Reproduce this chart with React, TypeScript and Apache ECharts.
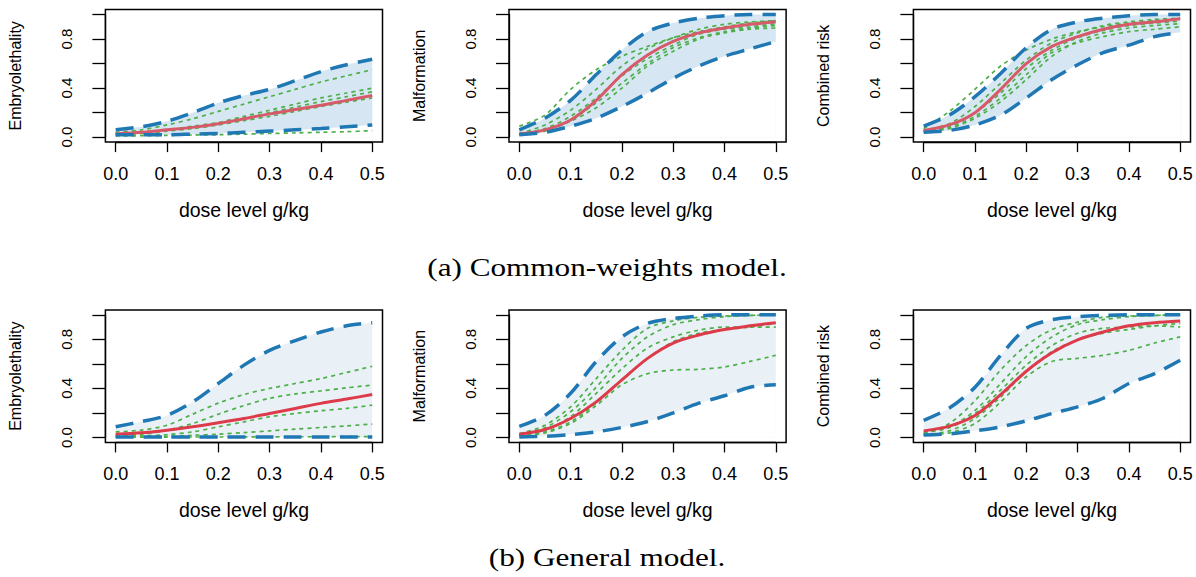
import React, { useEffect, useRef } from "react";
import * as echarts from "echarts";

// dose levels (g/kg) at which the curves are read
const dose = [0, 0.05, 0.1, 0.15, 0.2, 0.25, 0.3, 0.35, 0.4, 0.45, 0.5];
const xTicks = [0, 0.1, 0.2, 0.3, 0.4, 0.5];
const yTicks = [0, 0.2, 0.4, 0.6, 0.8, 1.0];
const yLabelled = ["0.0", "0.4", "0.8"];
const panelTitles = ["Embryolethality", "Malformation", "Combined risk"];
const xTitle = "dose level g/kg";
const captions = ["(a) Common-weights model.", "(b) General model."];

// (a) Common-weights model — Embryolethality
const cwEmbUpper = [0.06, 0.085, 0.13, 0.2, 0.28, 0.34, 0.39, 0.46, 0.535, 0.59, 0.635];
const cwEmbLower = [0.02, 0.02, 0.02, 0.025, 0.03, 0.04, 0.05, 0.06, 0.07, 0.085, 0.1];
const cwEmbMean = [0.027, 0.04, 0.06, 0.08, 0.11, 0.15, 0.19, 0.225, 0.26, 0.3, 0.34];
const cwEmbDraw1 = [0.04, 0.06, 0.1, 0.15, 0.21, 0.27, 0.33, 0.39, 0.45, 0.5, 0.55];
const cwEmbDraw2 = [0.03, 0.04, 0.06, 0.09, 0.12, 0.17, 0.22, 0.27, 0.32, 0.36, 0.4];
const cwEmbDraw3 = [0.025, 0.035, 0.055, 0.08, 0.11, 0.155, 0.2, 0.245, 0.29, 0.33, 0.37];
const cwEmbDraw4 = [0.02, 0.03, 0.05, 0.07, 0.1, 0.135, 0.17, 0.21, 0.25, 0.285, 0.32];
const cwEmbDraw5 = [0.01, 0.012, 0.015, 0.018, 0.02, 0.025, 0.03, 0.035, 0.04, 0.045, 0.054];

// (a) Common-weights model — Malformation
const cwMalUpper = [0.06, 0.155, 0.3, 0.51, 0.71, 0.86, 0.93, 0.97, 0.99, 1.0, 1.0];
const cwMalLower = [0.02, 0.04, 0.09, 0.155, 0.25, 0.36, 0.48, 0.58, 0.66, 0.72, 0.78];
const cwMalMean = [0.027, 0.06, 0.14, 0.3, 0.51, 0.67, 0.78, 0.85, 0.89, 0.92, 0.94];
const cwMalDraw1 = [0.09, 0.18, 0.39, 0.55, 0.66, 0.74, 0.81, 0.86, 0.9, 0.93, 0.95];
const cwMalDraw2 = [0.03, 0.1, 0.22, 0.39, 0.58, 0.72, 0.81, 0.88, 0.92, 0.94, 0.95];
const cwMalDraw3 = [0.03, 0.07, 0.17, 0.32, 0.5, 0.64, 0.75, 0.84, 0.88, 0.9, 0.925];
const cwMalDraw4 = [0.02, 0.05, 0.13, 0.24, 0.4, 0.58, 0.7, 0.8, 0.85, 0.88, 0.89];
const cwMalDraw5 = [0.02, 0.06, 0.14, 0.28, 0.44, 0.6, 0.73, 0.81, 0.86, 0.89, 0.91];

// (a) Common-weights model — Combined risk
const cwComUpper = [0.09, 0.18, 0.33, 0.52, 0.73, 0.88, 0.94, 0.97, 0.99, 1.0, 1.0];
const cwComLower = [0.04, 0.055, 0.1, 0.18, 0.32, 0.47, 0.59, 0.69, 0.75, 0.82, 0.855];
const cwComMean = [0.055, 0.1, 0.2, 0.39, 0.6, 0.74, 0.82, 0.88, 0.92, 0.94, 0.966];
const cwComDraw1 = [0.07, 0.21, 0.39, 0.58, 0.71, 0.8, 0.86, 0.9, 0.93, 0.95, 0.966];
const cwComDraw2 = [0.055, 0.11, 0.25, 0.44, 0.63, 0.77, 0.85, 0.91, 0.94, 0.96, 0.97];
const cwComDraw3 = [0.046, 0.09, 0.2, 0.36, 0.56, 0.71, 0.81, 0.87, 0.91, 0.93, 0.945];
const cwComDraw4 = [0.046, 0.07, 0.155, 0.29, 0.47, 0.66, 0.78, 0.85, 0.89, 0.91, 0.925];
const cwComDraw5 = [0.046, 0.08, 0.17, 0.32, 0.51, 0.69, 0.77, 0.82, 0.86, 0.88, 0.9];

// (b) General model — Embryolethality
const gmEmbUpper = [0.087, 0.13, 0.18, 0.29, 0.44, 0.59, 0.71, 0.79, 0.86, 0.91, 0.936];
const gmEmbLower = [0.005, 0.005, 0.005, 0.005, 0.005, 0.005, 0.005, 0.005, 0.005, 0.005, 0.005];
const gmEmbMean = [0.027, 0.038, 0.06, 0.087, 0.12, 0.155, 0.196, 0.237, 0.278, 0.313, 0.35];
const gmEmbDraw1 = [0.046, 0.06, 0.1, 0.19, 0.28, 0.35, 0.4, 0.44, 0.48, 0.53, 0.58];
const gmEmbDraw2 = [0.02, 0.025, 0.06, 0.114, 0.19, 0.26, 0.32, 0.355, 0.38, 0.405, 0.427];
const gmEmbDraw3 = [0.01, 0.012, 0.024, 0.046, 0.087, 0.128, 0.169, 0.196, 0.218, 0.237, 0.264];
const gmEmbDraw4 = [0.005, 0.007, 0.01, 0.018, 0.027, 0.04, 0.054, 0.068, 0.082, 0.095, 0.109];
const gmEmbDraw5 = [0.003, 0.003, 0.003, 0.004, 0.004, 0.005, 0.005, 0.006, 0.006, 0.007, 0.008];

// (b) General model — Malformation
const gmMalUpper = [0.09, 0.18, 0.36, 0.62, 0.82, 0.93, 0.97, 0.99, 1.0, 1.0, 1.0];
const gmMalLower = [0.005, 0.01, 0.024, 0.046, 0.082, 0.13, 0.2, 0.28, 0.34, 0.41, 0.43];
const gmMalMean = [0.027, 0.065, 0.155, 0.29, 0.47, 0.645, 0.77, 0.835, 0.88, 0.91, 0.936];
const gmMalDraw1 = [0.03, 0.1, 0.25, 0.48, 0.71, 0.89, 0.95, 0.98, 0.99, 0.995, 1.0];
const gmMalDraw2 = [0.027, 0.08, 0.21, 0.41, 0.645, 0.82, 0.92, 0.96, 0.985, 0.995, 1.0];
const gmMalDraw3 = [0.02, 0.06, 0.17, 0.36, 0.56, 0.73, 0.82, 0.875, 0.9, 0.9, 0.9];
const gmMalDraw4 = [0.02, 0.046, 0.128, 0.28, 0.47, 0.645, 0.78, 0.85, 0.88, 0.9, 0.93];
const gmMalDraw5 = [0.01, 0.038, 0.114, 0.26, 0.43, 0.52, 0.55, 0.555, 0.575, 0.62, 0.67];

// (b) General model — Combined risk
const gmComUpper = [0.14, 0.24, 0.41, 0.67, 0.89, 0.96, 0.985, 0.995, 1.0, 1.0, 1.0];
const gmComLower = [0.02, 0.03, 0.054, 0.087, 0.136, 0.196, 0.25, 0.32, 0.44, 0.52, 0.63];
const gmComMean = [0.054, 0.093, 0.18, 0.35, 0.54, 0.69, 0.795, 0.86, 0.91, 0.936, 0.95];
const gmComDraw1 = [0.03, 0.114, 0.3, 0.55, 0.75, 0.88, 0.94, 0.98, 0.99, 0.995, 1.0];
const gmComDraw2 = [0.046, 0.087, 0.22, 0.44, 0.66, 0.82, 0.92, 0.96, 0.985, 0.995, 1.0];
const gmComDraw3 = [0.038, 0.08, 0.196, 0.386, 0.59, 0.75, 0.85, 0.89, 0.9, 0.91, 0.9];
const gmComDraw4 = [0.02, 0.054, 0.155, 0.33, 0.54, 0.7, 0.795, 0.85, 0.88, 0.91, 0.93];
const gmComDraw5 = [0.02, 0.038, 0.114, 0.29, 0.495, 0.62, 0.645, 0.67, 0.71, 0.77, 0.82];

const panels = [
  { upper: cwEmbUpper, lower: cwEmbLower, mean: cwEmbMean, draws: [cwEmbDraw1, cwEmbDraw2, cwEmbDraw3, cwEmbDraw4, cwEmbDraw5] },
  { upper: cwMalUpper, lower: cwMalLower, mean: cwMalMean, draws: [cwMalDraw1, cwMalDraw2, cwMalDraw3, cwMalDraw4, cwMalDraw5] },
  { upper: cwComUpper, lower: cwComLower, mean: cwComMean, draws: [cwComDraw1, cwComDraw2, cwComDraw3, cwComDraw4, cwComDraw5] },
  { upper: gmEmbUpper, lower: gmEmbLower, mean: gmEmbMean, draws: [gmEmbDraw1, gmEmbDraw2, gmEmbDraw3, gmEmbDraw4, gmEmbDraw5] },
  { upper: gmMalUpper, lower: gmMalLower, mean: gmMalMean, draws: [gmMalDraw1, gmMalDraw2, gmMalDraw3, gmMalDraw4, gmMalDraw5] },
  { upper: gmComUpper, lower: gmComLower, mean: gmComMean, draws: [gmComDraw1, gmComDraw2, gmComDraw3, gmComDraw4, gmComDraw5] },
];

// layout
const COL_LEFT = [115.7, 519.3, 923.7];
const ROW_TOP = [14.5, 314.8];
const GW = 256.5;
const GH = 122.7;
const PADX = 10.3;
const PADY = 4.9;
const SANS = "Liberation Sans, Arial, Helvetica, sans-serif";
const SERIF = "Liberation Serif, Times New Roman, serif";
const BAND_FILL = ["#d6e7f3", "#e9f1f6"];
const RED = ["#d75a6a", "#dd3a4a"];
const BLUE = "#1f78b4";
const GREEN = "#4daf4a";

export default function App() {
  const ref = useRef<HTMLDivElement>(null);
  useEffect(() => {
    if (!ref.current) return;
    const chart = echarts.init(ref.current, null, { renderer: "svg" });
    const grid: any[] = [];
    const xAxis: any[] = [];
    const yAxis: any[] = [];
    const series: any[] = [];
    const graphic: any[] = [];

    panels.forEach((p, idx) => {
      const row = Math.floor(idx / 3);
      const col = idx % 3;
      const left = COL_LEFT[col];
      const top = ROW_TOP[row];
      grid.push({ left, top, width: GW, height: GH, show: false });
      xAxis.push({
        gridIndex: idx,
        type: "value",
        min: xTicks[0],
        max: xTicks[xTicks.length - 1],
        interval: 0.1,
        offset: PADY,
        axisLine: { show: true, onZero: false, lineStyle: { color: "#000", width: 1.3 } },
        axisTick: { show: true, length: 10, lineStyle: { color: "#000", width: 1.3 } },
        axisLabel: {
          color: "#000",
          fontSize: 18,
          fontFamily: SANS,
          margin: 23,
          formatter: (v: number) => v.toFixed(1),
        },
        splitLine: { show: false },
        name: xTitle,
        nameLocation: "middle",
        nameGap: 58,
        nameTextStyle: { color: "#000", fontSize: 19.5, fontFamily: SANS },
      });
      yAxis.push({
        gridIndex: idx,
        type: "value",
        min: yTicks[0],
        max: yTicks[yTicks.length - 1],
        interval: 0.2,
        offset: PADX,
        axisLine: { show: true, onZero: false, lineStyle: { color: "#000", width: 1.3 } },
        axisTick: { show: true, length: 13, lineStyle: { color: "#000", width: 1.3 } },
        axisLabel: {
          color: "#000",
          fontSize: 15,
          fontFamily: SANS,
          rotate: 90,
          margin: 31,
          formatter: (v: number) => {
            const s = v.toFixed(1);
            return yLabelled.includes(s) ? s : "";
          },
        },
        splitLine: { show: false },
        name: panelTitles[col],
        nameLocation: "middle",
        nameGap: 82,
        nameRotate: 90,
        nameTextStyle: { color: "#000", fontSize: 16, fontFamily: SANS },
      });

      graphic.push({
        type: "rect",
        shape: { x: left - PADX, y: top - PADY, width: GW + 2 * PADX, height: GH + 2 * PADY },
        style: { fill: "none", stroke: "#000", lineWidth: 1.5 },
        z: 100,
        silent: true,
      });

      const pts = (arr: number[]) => dose.map((x, i) => [x, arr[i]]);
      const common = {
        type: "line",
        xAxisIndex: idx,
        yAxisIndex: idx,
        symbol: "none",
        smooth: 0.3,
        clip: false,
        silent: true,
      };
      // band: fill under the upper curve, then blank out what lies under the lower curve
      series.push({
        ...common,
        name: `band-${idx}`,
        data: pts(p.upper),
        lineStyle: { opacity: 0, width: 0 },
        areaStyle: { color: BAND_FILL[row], opacity: 1, origin: "start" },
        z: 1,
      });
      series.push({
        ...common,
        name: `band-mask-${idx}`,
        data: pts(p.lower),
        lineStyle: { opacity: 0, width: 0 },
        areaStyle: { color: "#ffffff", opacity: 1, origin: "start" },
        z: 1,
      });
      p.draws.forEach((d, k) => {
        series.push({
          ...common,
          name: `draw-${idx}-${k}`,
          data: pts(d),
          lineStyle: { color: GREEN, width: 1.7, type: [4, 4] },
          z: 2,
        });
      });
      series.push({
        ...common,
        name: `mean-${idx}`,
        data: pts(p.mean),
        lineStyle: { color: RED[row], width: 3 },
        z: 3,
      });
      series.push({
        ...common,
        name: `upper-${idx}`,
        data: pts(p.upper),
        lineStyle: { color: BLUE, width: 3.5, type: [18, 10] },
        z: 4,
      });
      series.push({
        ...common,
        name: `lower-${idx}`,
        data: pts(p.lower),
        lineStyle: { color: BLUE, width: 3.5, type: [18, 10] },
        z: 4,
      });
    });

    const capY = [267, 557];
    captions.forEach((c, i) => {
      graphic.push({
        type: "text",
        x: 607,
        y: capY[i],
        scaleX: 1.2,
        style: {
          text: c,
          x: 0,
          y: 0,
          align: "center",
          verticalAlign: "middle",
          fontSize: 26,
          fontFamily: SERIF,
          fill: "#000",
        },
      });
    });

    chart.setOption({
      animation: false,
      backgroundColor: "#fff",
      grid,
      xAxis,
      yAxis,
      series,
      graphic,
    });
    return () => chart.dispose();
  }, []);

  return (
    <div
      ref={ref}
      style={{ position: "fixed", left: 0, top: 0, width: 1196, height: 577, background: "#fff" }}
    />
  );
}
